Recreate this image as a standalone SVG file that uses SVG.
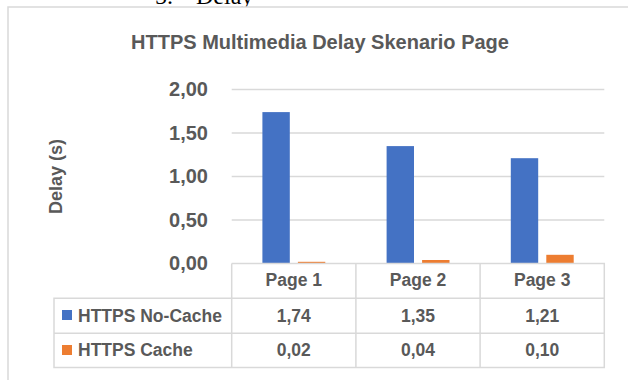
<svg xmlns="http://www.w3.org/2000/svg" width="628" height="380" viewBox="0 0 628 380">
<style>
.t{font-family:"Liberation Sans",Arial,sans-serif;font-weight:bold;fill:#595959}
.ax{font-size:20px;text-anchor:end}
.cell{font-size:17.5px;text-anchor:middle}
.leg{font-size:17.5px}
.grid{stroke:#d9d9d9;stroke-width:1.5}
.tbl{stroke:#d9d9d9;stroke-width:1.5;fill:none}
.blue{fill:#4472C4}
.orange{fill:#ED7D31}
</style>
<rect width="628" height="380" fill="#ffffff"/>
<text x="155" y="4" font-family="Liberation Serif,serif" font-size="24" fill="#000">5.</text>
<text x="196" y="4" font-family="Liberation Serif,serif" font-size="24" fill="#000">Delay</text>
<rect x="8" y="7" width="640" height="380" fill="#ffffff" stroke="#d9d9d9" stroke-width="1.5"/>
<text id="title" class="t" x="320" y="49" font-size="20" text-anchor="middle">HTTPS Multimedia Delay Skenario Page</text>
<g id="grid">
<line class="grid" x1="231.7" y1="89.5" x2="604.3" y2="89.5"/>
<line class="grid" x1="231.7" y1="133" x2="604.3" y2="133"/>
<line class="grid" x1="231.7" y1="176.5" x2="604.3" y2="176.5"/>
<line class="grid" x1="231.7" y1="220" x2="604.3" y2="220"/>
</g>
<g id="yaxis">
<text class="t ax" x="208" y="96">2,00</text>
<text class="t ax" x="208" y="139.5">1,50</text>
<text class="t ax" x="208" y="183">1,00</text>
<text class="t ax" x="208" y="226.5">0,50</text>
<text class="t ax" x="208" y="270">0,00</text>
<text class="t" x="0" y="0" font-size="18" text-anchor="middle" transform="translate(62,176.5) rotate(-90)">Delay (s)</text>
</g>
<g id="bars">
<rect class="blue" x="262.4" y="112.1" width="27.4" height="151.4"/>
<rect class="orange" x="297.9" y="261.8" width="27.4" height="1.7"/>
<rect class="blue" x="386.6" y="146.1" width="27.4" height="117.4"/>
<rect class="orange" x="422.1" y="260" width="27.4" height="3.5"/>
<rect class="blue" x="510.8" y="158.2" width="27.4" height="105.3"/>
<rect class="orange" x="546.3" y="254.8" width="27.4" height="8.7"/>
</g>
<g id="table">
<path class="tbl" d="M231.7 263.5H604.3V367.5H54V298.3H604.3M54 333.3H604.3M231.7 263.5V367.5M355.9 263.5V367.5M480.1 263.5V367.5"/>
<text class="t cell" x="293.8" y="285.7">Page 1</text>
<text class="t cell" x="418" y="285.7">Page 2</text>
<text class="t cell" x="542.2" y="285.7">Page 3</text>
<rect class="blue" x="62" y="310" width="10" height="10"/>
<text class="t leg" x="78" y="321.7">HTTPS No-Cache</text>
<text class="t cell" x="293.8" y="321.7">1,74</text>
<text class="t cell" x="418" y="321.7">1,35</text>
<text class="t cell" x="542.2" y="321.7">1,21</text>
<rect class="orange" x="62" y="345" width="10" height="10"/>
<text class="t leg" x="78" y="356">HTTPS Cache</text>
<text class="t cell" x="293.8" y="356">0,02</text>
<text class="t cell" x="418" y="356">0,04</text>
<text class="t cell" x="542.2" y="356">0,10</text>
</g>
</svg>
